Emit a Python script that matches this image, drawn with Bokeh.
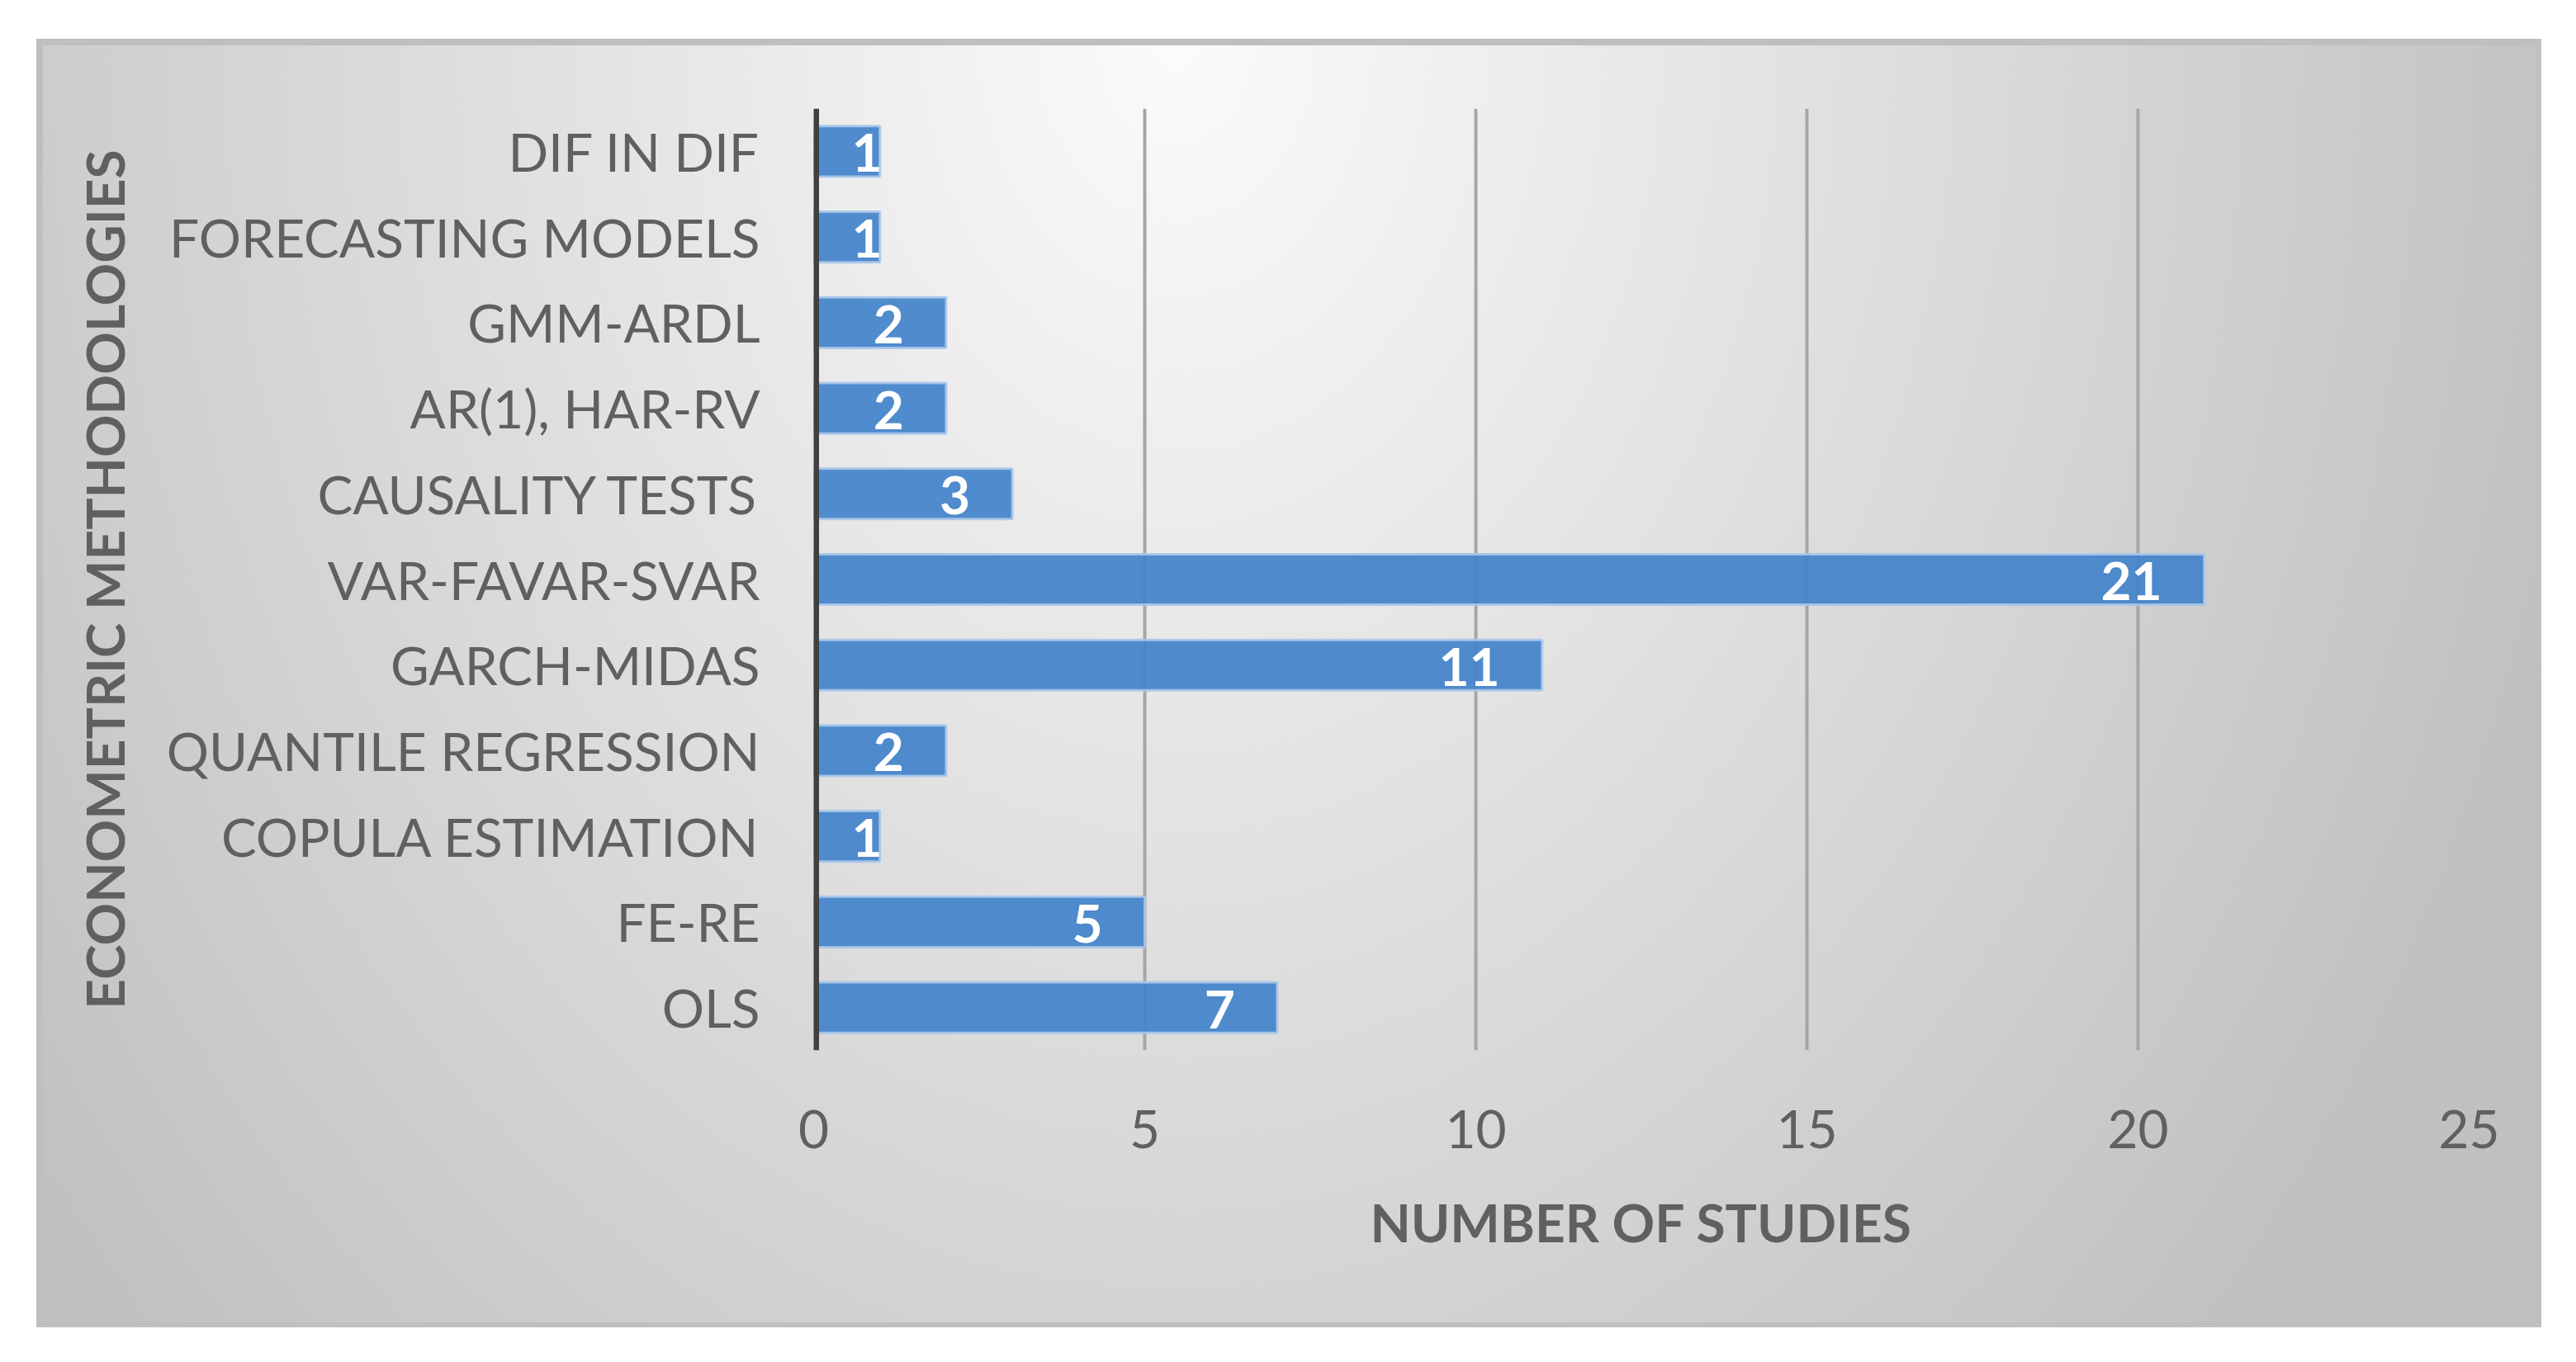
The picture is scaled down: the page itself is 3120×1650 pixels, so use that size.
from bokeh.plotting import figure
from bokeh.models import FactorRange, Range1d, Span, SingleIntervalTicker, ColumnDataSource, Spacer
from bokeh.layouts import column, row
from bokeh.core.properties import value
from bokeh.embed import file_html
from bokeh.resources import INLINE

# data (bottom to top)
categories = ["OLS", "FE-RE", "COPULA ESTIMATION", "QUANTILE REGRESSION", "GARCH-MIDAS",
              "VAR-FAVAR-SVAR", "CAUSALITY TESTS", "AR(1), HAR-RV", "GMM-ARDL",
              "FORECASTING MODELS", "DIF IN DIF"]
studies = [7, 5, 1, 2, 11, 21, 3, 2, 2, 1, 1]
x_ticks = [0, 5, 10, 15, 20, 25]

FONT = "Lato"
TXT = "#606060"

src = ColumnDataSource(dict(
    cat=categories,
    val=studies,
    lab=[str(v) for v in studies],
    xoff=[-51 if v >= 2 else 3 for v in studies],
))

p = figure(width=3034, height=1561,
           y_range=FactorRange(*categories), x_range=Range1d(0, 25),
           output_backend="svg", toolbar_location=None,
           min_border_left=941, min_border_right=88,
           min_border_top=84, min_border_bottom=336)

p.background_fill_color = None
p.border_fill_color = None
p.outline_line_color = None
p.styles = {
    "background": "radial-gradient(1750px 2300px at 1380px 0px, #fbfbfb 0%, #c0c0c0 100%)",
    "box-shadow": "inset 8px 8px 0 0 #bfbfbf, inset -6px -6px 0 0 #bfbfbf",
}

p.hbar(y="cat", right="val", left=0, height=0.59, source=src,
       fill_color="#4383CA", fill_alpha=0.93, line_color="#a9c6ea", line_width=3, line_alpha=0.9)

p.text(x="val", y="cat", text="lab", x_offset="xoff", y_offset=2, source=src,
       text_align="right", text_baseline="middle", text_color="white",
       text_font=value(FONT), text_font_style="bold", text_font_size="64px")

p.add_layout(Span(location=0, dimension="height", line_color="#404040", line_width=13))

p.xaxis.ticker = SingleIntervalTicker(interval=5)
p.xgrid.ticker = SingleIntervalTicker(interval=5)
p.xgrid.grid_line_color = "#a6a6a6"
p.xgrid.grid_line_width = 4
p.ygrid.grid_line_color = None

for ax in (p.xaxis, p.yaxis):
    ax.axis_line_color = None
    ax.major_tick_line_color = None
    ax.minor_tick_line_color = None
    ax.major_label_text_font = FONT
    ax.major_label_text_font_size = "64px"
    ax.major_label_text_color = TXT
    ax.axis_label_text_font = FONT
    ax.axis_label_text_font_size = "64px"
    ax.axis_label_text_font_style = "bold"
    ax.axis_label_text_color = TXT

p.xaxis.major_tick_out = 0
p.xaxis.major_label_standoff = 68
p.xaxis.axis_label = "NUMBER OF STUDIES"
p.xaxis.axis_label_standoff = 48

p.yaxis.major_tick_out = 0
p.yaxis.major_label_standoff = 65
p.yaxis.axis_label = "ECONOMETRIC METHODOLOGIES"
p.yaxis.axis_label_standoff = 34

layout = column(Spacer(width=10, height=47), row(Spacer(width=44, height=1561), p))

open("out.html", "w").write(file_html(layout, INLINE))
